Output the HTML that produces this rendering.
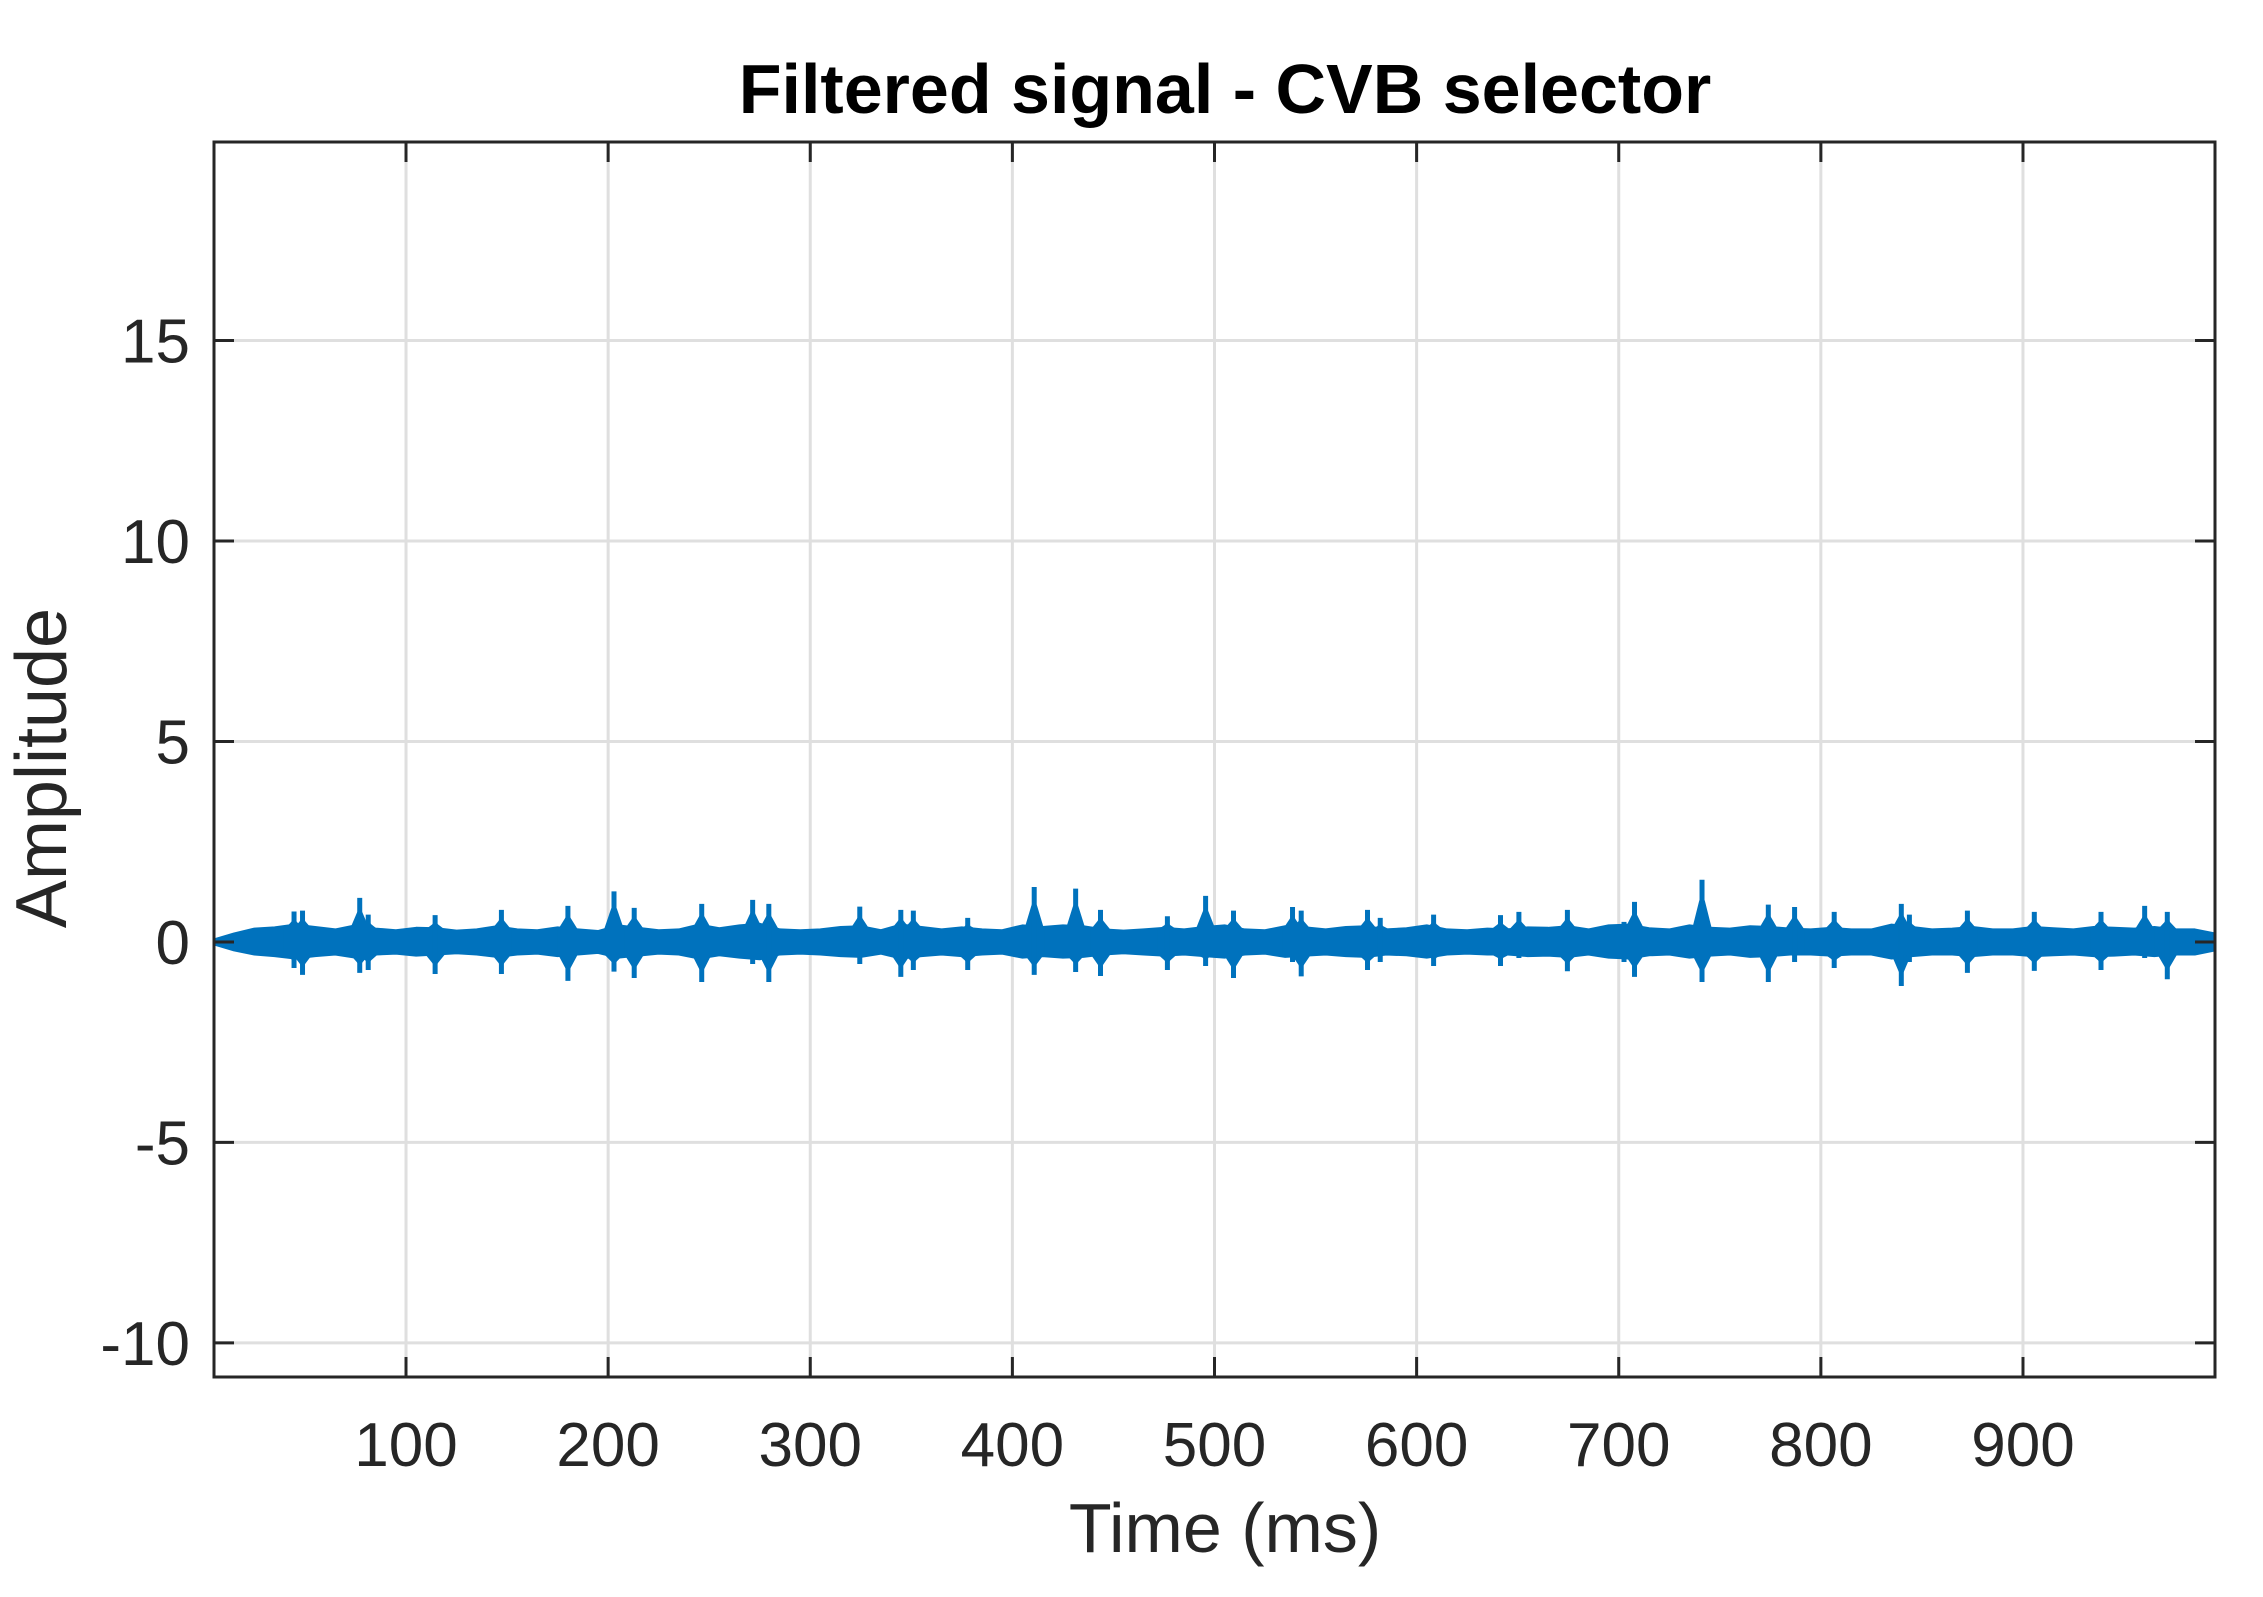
<!DOCTYPE html>
<html><head><meta charset="utf-8"><style>
html,body{margin:0;padding:0;background:#fff;}
svg{display:block;}
text{font-family:"Liberation Sans",Arial,sans-serif;fill:#262626;}
</style></head><body>
<svg id="chart" width="2263" height="1597" viewBox="0 0 2263 1597" xmlns="http://www.w3.org/2000/svg">
<rect x="0" y="0" width="2263" height="1597" fill="#fff"/>
<text x="1225" y="113" font-size="70" font-weight="bold" text-anchor="middle" style="fill:#000">Filtered signal - CVB selector</text>
<g id="grid"></g>
<g id="series"></g>
<g id="axes"></g>
<text x="1225" y="1552" font-size="70" text-anchor="middle">Time (ms)</text>
<text x="0" y="0" font-size="72" text-anchor="middle" transform="translate(66,768) rotate(-90)">Amplitude</text>
</svg>
<script>
const xTicks = [100,200,300,400,500,600,700,800,900];
const yTicks = [-10,-5,0,5,10,15];
const xTickLabels = ["100","200","300","400","500","600","700","800","900"];
const yTickLabels = ["-10","-5","0","5","10","15"];
const xDomain = [5, 995];
const yDomain = [-10.85, 19.95];
const bandTimes = [5,15,25,35,45,55,65,75,85,95,105,115,125,135,145,155,165,175,185,195,205,215,225,235,245,255,265,275,285,295,305,315,325,335,345,355,365,375,385,395,405,415,425,435,445,455,465,475,485,495,505,515,525,535,545,555,565,575,585,595,605,615,625,635,645,655,665,675,685,695,705,715,725,735,745,755,765,775,785,795,805,815,825,835,845,855,865,875,885,895,905,915,925,935,945,955,965,975,985,995];
const bandUpper = [0.05,0.2,0.32,0.35,0.42,0.36,0.3,0.4,0.32,0.28,0.34,0.33,0.27,0.3,0.38,0.3,0.28,0.35,0.3,0.26,0.4,0.34,0.28,0.3,0.42,0.33,0.4,0.44,0.3,0.28,0.3,0.36,0.38,0.28,0.42,0.36,0.3,0.35,0.3,0.28,0.4,0.36,0.4,0.38,0.3,0.27,0.3,0.34,0.3,0.36,0.4,0.3,0.28,0.38,0.35,0.3,0.36,0.38,0.3,0.33,0.4,0.3,0.28,0.32,0.3,0.35,0.34,0.38,0.3,0.4,0.42,0.33,0.3,0.4,0.34,0.32,0.38,0.36,0.32,0.3,0.34,0.3,0.3,0.42,0.36,0.3,0.32,0.36,0.3,0.3,0.36,0.33,0.3,0.36,0.34,0.32,0.36,0.3,0.3,0.2];
const bandLower = [-0.05,-0.2,-0.3,-0.34,-0.4,-0.34,-0.3,-0.38,-0.3,-0.28,-0.33,-0.3,-0.27,-0.3,-0.36,-0.3,-0.28,-0.34,-0.3,-0.26,-0.38,-0.33,-0.28,-0.3,-0.4,-0.32,-0.38,-0.42,-0.3,-0.28,-0.3,-0.34,-0.36,-0.28,-0.4,-0.34,-0.3,-0.34,-0.3,-0.28,-0.38,-0.34,-0.38,-0.36,-0.3,-0.27,-0.3,-0.33,-0.3,-0.34,-0.38,-0.3,-0.28,-0.36,-0.33,-0.3,-0.34,-0.36,-0.3,-0.32,-0.38,-0.3,-0.28,-0.3,-0.3,-0.34,-0.33,-0.36,-0.3,-0.38,-0.4,-0.32,-0.3,-0.38,-0.33,-0.3,-0.36,-0.34,-0.3,-0.3,-0.33,-0.3,-0.3,-0.4,-0.34,-0.3,-0.3,-0.34,-0.3,-0.3,-0.34,-0.32,-0.3,-0.34,-0.33,-0.3,-0.34,-0.3,-0.3,-0.2];
const spikeTimes = [44.6,48.8,77.1,81.3,114.4,147.2,180.1,202.9,212.9,246.3,271.5,279.5,324.5,344.8,351,377.9,410.8,431.3,443.6,476.7,495.6,509.4,538.6,542.9,575.7,582,608.4,641.5,650.6,674.6,702.6,707.8,741.2,774,787,806.6,839.8,843.8,872.5,905.6,938.6,960.2,971.4];
const spikeUp = [0.76,0.78,1.1,0.68,0.67,0.8,0.9,1.26,0.85,0.95,1.05,0.95,0.88,0.8,0.78,0.6,1.37,1.33,0.8,0.64,1.15,0.78,0.87,0.78,0.8,0.6,0.68,0.67,0.75,0.8,0.5,1.0,1.55,0.93,0.87,0.75,0.95,0.68,0.78,0.75,0.75,0.9,0.75];
const spikeDown = [-0.65,-0.82,-0.77,-0.7,-0.8,-0.8,-0.97,-0.74,-0.9,-1.0,-0.55,-1.0,-0.55,-0.87,-0.7,-0.7,-0.82,-0.75,-0.85,-0.7,-0.6,-0.9,-0.5,-0.86,-0.7,-0.5,-0.6,-0.6,-0.4,-0.73,-0.5,-0.87,-1.0,-1.0,-0.5,-0.65,-1.1,-0.5,-0.77,-0.72,-0.7,-0.4,-0.93];

const L=214,R=2215,T=142,B=1377;
const NS="http://www.w3.org/2000/svg";
function sx(v){return L+(v-xDomain[0])/(xDomain[1]-xDomain[0])*(R-L);}
function sy(v){return B-(v-yDomain[0])/(yDomain[1]-yDomain[0])*(B-T);}
function mk(tag,attrs,parent){const e=document.createElementNS(NS,tag);for(const k in attrs)e.setAttribute(k,attrs[k]);parent.appendChild(e);return e;}
const grid=document.getElementById('grid'),series=document.getElementById('series'),axes=document.getElementById('axes');

xTicks.forEach((v,i)=>{
  const g=mk('line',{x1:sx(v),x2:sx(v),y1:T,y2:B,stroke:'#dfdfdf','stroke-width':3},grid);
  
  
  const t1=mk('line',{x1:sx(v),x2:sx(v),y1:B,y2:B-20,stroke:'#262626','stroke-width':3},axes);
  
  
  const t2=mk('line',{x1:sx(v),x2:sx(v),y1:T,y2:T+20,stroke:'#262626','stroke-width':3},axes);
  
  
  const lb=mk('text',{x:sx(v),y:1466,'font-size':62,'text-anchor':'middle'},axes);
  lb.textContent=xTickLabels[i];
  
  
});
yTicks.forEach((v,i)=>{
  const g=mk('line',{x1:L,x2:R,y1:sy(v),y2:sy(v),stroke:'#dfdfdf','stroke-width':3},grid);
  
  
  const t1=mk('line',{x1:L,x2:L+20,y1:sy(v),y2:sy(v),stroke:'#262626','stroke-width':3},axes);
  
  
  const t2=mk('line',{x1:R,x2:R-20,y1:sy(v),y2:sy(v),stroke:'#262626','stroke-width':3},axes);
  
  
  const lb=mk('text',{x:190,y:sy(v)+22,'font-size':62,'text-anchor':'end'},axes);
  lb.textContent=yTickLabels[i];
  
  
});
const box=mk('rect',{x:L,y:T,width:R-L,height:B-T,fill:'none',stroke:'#262626','stroke-width':3},axes);



let pts=[];
bandTimes.forEach((t,i)=>{pts.push(sx(t)+','+sy(bandUpper[i]));});
for(let i=bandTimes.length-1;i>=0;i--){pts.push(sx(bandTimes[i])+','+sy(bandLower[i]));}
const band=mk('polygon',{points:pts.join(' '),fill:'#0072BD',stroke:'#0072BD','stroke-width':3,'stroke-linejoin':'round'},series);



spikeTimes.forEach((t,i)=>{
  const x=sx(t);
  const burst=mk('polygon',{points:[
    sx(t-5)+','+sy(0.3),sx(t-1.5)+','+sy(spikeUp[i]*0.65),x+','+sy(spikeUp[i]*0.8),sx(t+1.5)+','+sy(spikeUp[i]*0.65),sx(t+5)+','+sy(0.3),
    sx(t+5)+','+sy(-0.3),sx(t+1.5)+','+sy(spikeDown[i]*0.65),x+','+sy(spikeDown[i]*0.8),sx(t-1.5)+','+sy(spikeDown[i]*0.65),sx(t-5)+','+sy(-0.3)
  ].join(' '),fill:'#0072BD'},series);
  
  
  const s=mk('line',{x1:x,x2:x,y1:sy(spikeUp[i]),y2:sy(spikeDown[i]),stroke:'#0072BD','stroke-width':5},series);
  
  
});
</script>
</body></html>
